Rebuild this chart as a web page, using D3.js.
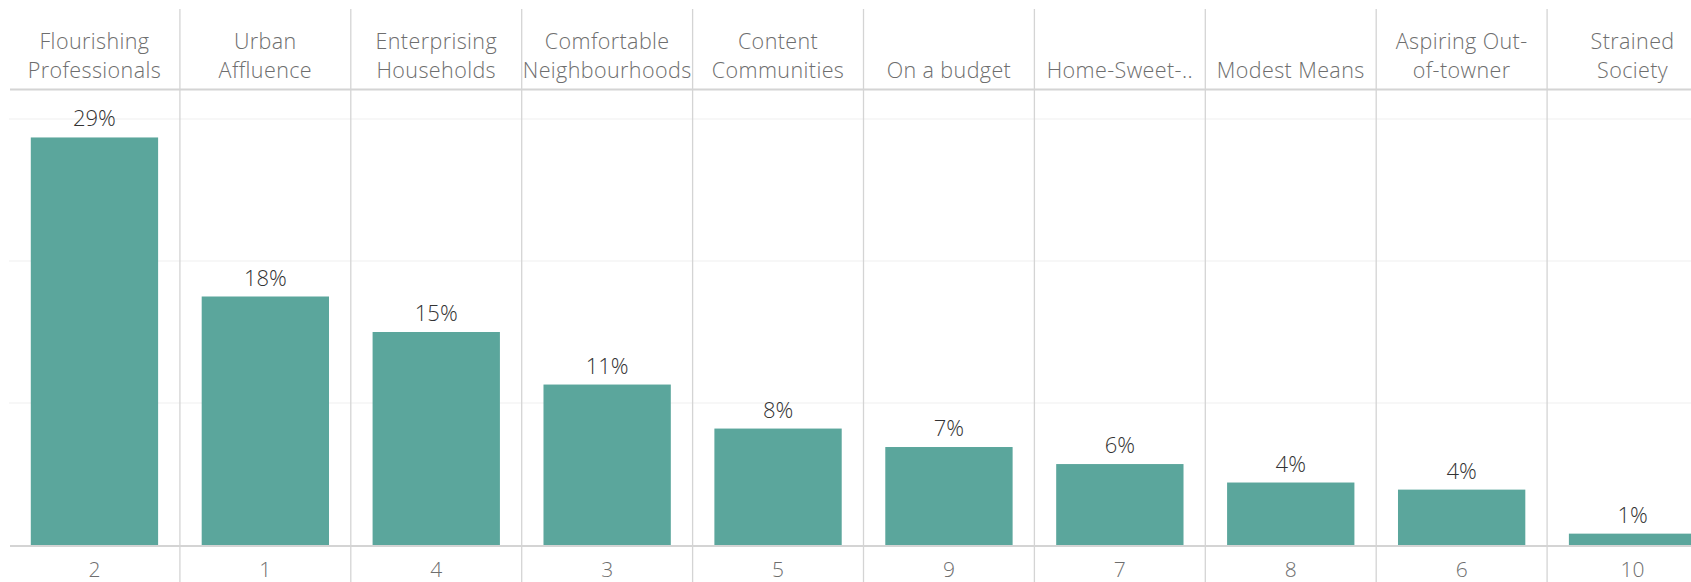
<!DOCTYPE html>
<html>
<head>
    <script src="https://d3js.org/d3.v7.min.js"></script>
    <style>
        body { margin: 0; background: #fff; }
        text { font-family: "Open Sans", "Noto Sans", sans-serif; font-weight: 300; }
    </style>
</head>
<body>
    <div id="chart"></div>

    <script>
        // segment ids (bottom row), header labels (two lines), share of customers
        const segmentIds = ["2", "1", "4", "3", "5", "9", "7", "8", "6", "10"];
        const headerTop = ["Flourishing", "Urban", "Enterprising", "Comfortable", "Content", "", "", "", "Aspiring Out-", "Strained"];
        const headerBottom = ["Professionals", "Affluence", "Households", "Neighbourhoods", "Communities", "On a budget", "Home-Sweet-..", "Modest Means", "of-towner", "Society"];
        const shares = [0.287, 0.175, 0.150, 0.113, 0.082, 0.069, 0.057, 0.044, 0.039, 0.008];
        const gridValues = [0.1, 0.2, 0.3];

        const W = 1691, H = 582;
        const left = 9, colW = 170.9;
        const headerLineY = 89.5, baseY = 545;

        const svg = d3.select("#chart").append("svg")
            .attr("width", W)
            .attr("height", H);

        // column bands and bar bands
        const col = d3.scaleBand()
            .domain(segmentIds)
            .range([left, left + colW * segmentIds.length])
            .padding(0);

        const x = d3.scaleBand()
            .domain(segmentIds)
            .range([left, left + colW * segmentIds.length])
            .paddingInner(0.255)
            .paddingOuter(0.1275);

        const y = d3.scaleLinear()
            .domain([0, 0.3])
            .range([baseY, 119]);

        // light gridlines
        svg.append("g")
            .selectAll("line")
            .data(gridValues)
            .join("line")
            .attr("x1", left)
            .attr("x2", W)
            .attr("y1", d => y(d))
            .attr("y2", d => y(d))
            .attr("stroke", "#efefef")
            .attr("stroke-width", 1);

        // column separators
        svg.append("g")
            .selectAll("line")
            .data(segmentIds.slice(1))
            .join("line")
            .attr("x1", d => col(d))
            .attr("x2", d => col(d))
            .attr("y1", 9)
            .attr("y2", H)
            .attr("stroke", "#d4d4d4")
            .attr("stroke-width", 1.3);

        // header bottom line and baseline
        svg.append("line")
            .attr("x1", left + 1).attr("x2", W)
            .attr("y1", headerLineY).attr("y2", headerLineY)
            .attr("stroke", "#d4d4d4").attr("stroke-width", 2);

        svg.append("line")
            .attr("x1", left + 1).attr("x2", W)
            .attr("y1", baseY + 1).attr("y2", baseY + 1)
            .attr("stroke", "#d4d4d4").attr("stroke-width", 2);

        // bars
        svg.append("g")
            .selectAll("rect")
            .data(shares)
            .join("rect")
            .attr("x", (d, i) => x(segmentIds[i]))
            .attr("width", x.bandwidth())
            .attr("y", d => y(d))
            .attr("height", d => baseY - y(d))
            .attr("fill", "#5ba69c");

        // value labels
        svg.append("g")
            .selectAll("text")
            .data(shares)
            .join("text")
            .attr("x", (d, i) => col(segmentIds[i]) + colW / 2)
            .attr("y", d => y(d) - 11)
            .attr("text-anchor", "middle")
            .attr("font-size", 22)
            .attr("fill", "#333")
            .text(d => d3.format(".0%")(d));

        // header labels
        const header = svg.append("g")
            .attr("letter-spacing", 0.4);
        header.selectAll("text.top")
            .data(headerTop)
            .join("text")
            .attr("class", "top")
            .attr("x", (d, i) => col(segmentIds[i]) + colW / 2)
            .attr("y", 49)
            .attr("text-anchor", "middle")
            .attr("font-size", 21.5)
            .attr("fill", "#6e6e6e")
            .text(d => d);

        header.selectAll("text.bottom")
            .data(headerBottom)
            .join("text")
            .attr("class", "bottom")
            .attr("x", (d, i) => col(segmentIds[i]) + colW / 2)
            .attr("y", 78)
            .attr("text-anchor", "middle")
            .attr("font-size", 21.5)
            .attr("fill", "#6e6e6e")
            .text(d => d);

        // bottom axis (segment ids)
        const xAxis = svg.append("g")
            .attr("transform", "translate(0," + (baseY + 1) + ")")
            .call(d3.axisBottom(col).tickSize(0).tickPadding(16));
        xAxis.select(".domain").remove();
        xAxis.selectAll("text")
            .attr("font-size", 21)
            .attr("fill", "#6e6e6e")
            .style("font-family", "'Open Sans', sans-serif")
            .style("font-weight", 300);
    </script>
</body>
</html>
